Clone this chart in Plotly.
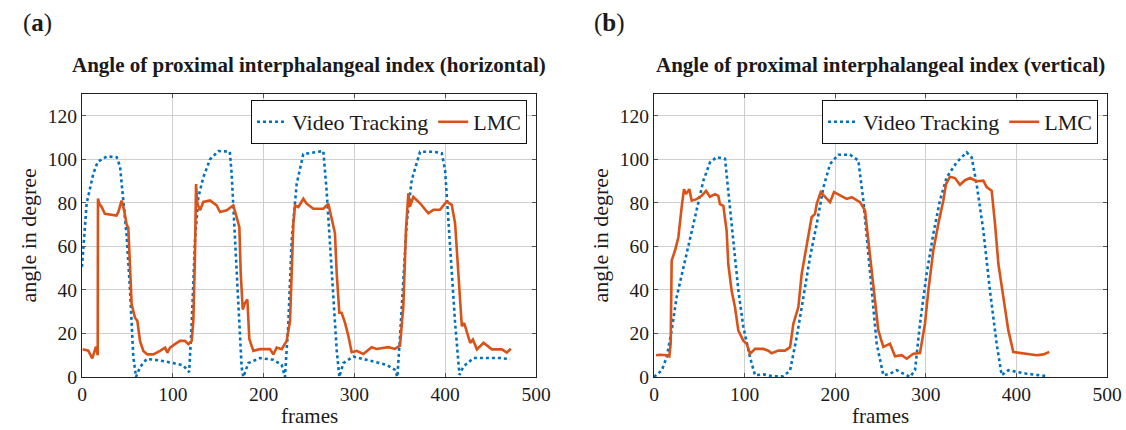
import plotly.graph_objects as go

# Panel (a): horizontal
va_x = [0, 5.1, 12.5, 17.2, 27.2, 38.2, 41.9, 45.5, 49.2, 52.9, 56.5, 59.5, 63.9, 71.2, 85.9, 100.5, 111.5, 118, 120.8, 124.4, 128.1, 133.6, 141, 150.2, 162.8, 164.8, 168.5, 172.2, 175.8, 177.7, 183.2, 196, 210.7, 219.9, 223.5, 227.2, 230.9, 236.4, 243.7, 254.8, 265.8, 269.4, 275, 280.5, 283.4, 287.8, 298.8, 313.5, 335.5, 344.7, 347.3, 350.2, 353.9, 357.6, 363.1, 372.3, 387, 396.2, 399.9, 403.5, 407.2, 410.9, 415.7, 420.1, 431.1, 445.8, 460.5, 471.5]
va_y = [50.6, 79.7, 93.4, 98.8, 101.3, 101, 96.7, 81.4, 64.7, 39.9, 9.3, 0, 4.5, 8.3, 7.6, 6.4, 5.3, 2.2, 24.4, 62.6, 82.5, 91.7, 100, 103.8, 103.5, 93.4, 62.6, 32, 4.5, 0, 6.4, 8.7, 7.9, 5.6, 0, 24.4, 62.6, 88.6, 102.4, 103.1, 103.8, 85.6, 47.7, 12.5, 0, 6.4, 9.4, 7.9, 5.6, 3.3, 0, 18.3, 47.7, 70.6, 90.4, 103.5, 103.5, 102.8, 95, 70.6, 47.7, 24.8, 1, 4.8, 8.7, 8.7, 8.7, 8.2]
la_x = [0.7, 6.9, 11.3, 13.2, 15.4, 17.3, 17.6, 19.1, 21.6, 25.2, 30.7, 38, 40, 43.6, 46.2, 49.2, 51, 52.9, 54.7, 58.4, 61, 63.9, 67.6, 72, 78.6, 85.9, 91.5, 94, 97, 102.4, 107.9, 113.4, 117.1, 120.8, 122.6, 124.4, 125.6, 127, 130, 133.6, 141, 148.3, 152, 159.3, 166.6, 170.3, 173.3, 174.8, 177, 179.5, 182.1, 184.3, 188.7, 196, 207, 210.7, 214.4, 219.9, 225.4, 229.1, 232.8, 234.6, 238.3, 243.8, 247.4, 254.8, 265.8, 271.3, 275, 278.6, 280.5, 283.4, 285.9, 289.6, 293.3, 297, 302.5, 309.8, 319, 324.5, 337.3, 344.7, 350.2, 353.9, 356.8, 359.4, 361.2, 364.9, 372.3, 381.4, 387, 394.3, 401.6, 407.2, 410.9, 415.7, 418.3, 420.9, 423.8, 427.5, 430.5, 434.9, 442.2, 451.4, 462.4, 467.9, 472.3]
la_y = [12.7, 12.1, 8.6, 11.6, 14, 10, 82, 79.6, 78.1, 75, 74.7, 74.2, 75.7, 81, 77, 70, 68.5, 48.6, 33.3, 27.2, 25.7, 16.5, 12, 10.4, 10.4, 12, 13.5, 11.2, 13.5, 15.1, 16.6, 16.6, 15.1, 16.6, 25.7, 55.5, 88.6, 79.6, 76.6, 80.4, 81.1, 78.8, 75.8, 76.6, 78.8, 73.5, 68.8, 47.7, 31, 34.1, 35.6, 17.4, 12, 12.8, 12.8, 10.4, 13.5, 12.8, 16.6, 25.7, 70.6, 78.8, 78.1, 81.9, 79.6, 77.3, 77.3, 79.6, 72, 66, 47.7, 29.5, 29.5, 25, 18.9, 11.4, 12, 10.6, 13.7, 12.9, 13.7, 12.9, 14.4, 32.5, 67.6, 84.4, 78.3, 82.8, 79.8, 75.2, 76.8, 76.8, 80.6, 79.1, 70.6, 40.1, 23.3, 24.8, 20.3, 15.7, 17.2, 12.7, 15.7, 12.7, 12.7, 11.2, 13]

# Panel (b): vertical
vb_x = [0, 8.5, 14, 19.5, 25, 32.4, 39.7, 47.1, 54.5, 61.8, 69.2, 78.4, 82, 87.6, 93.1, 98.6, 106, 111.5, 120.7, 131.8, 142.8, 150.2, 157.5, 164.9, 172.2, 179.6, 187, 194.3, 203.5, 216.4, 225.6, 231.1, 238.5, 245.8, 253.1, 260.5, 267.9, 275.2, 282.6, 288.1, 293.6, 300.9, 308.3, 315.6, 323, 334, 345.1, 350.6, 356.1, 363.5, 370.8, 378.2, 383.7, 391.1, 400.3, 411.3, 426, 435.2]
vb_y = [0, 3, 9, 21.4, 36.7, 50.5, 62.7, 76.5, 90.2, 98.6, 101, 100.2, 85.6, 61.2, 39.8, 23, 9, 0.8, 1.2, 0.3, 0.3, 3, 18.3, 36.7, 55, 70.3, 87.1, 97.8, 102.1, 102.1, 99.4, 81, 47.4, 15.3, 0.8, 1.5, 3.1, 1.5, 0, 3.1, 24.5, 47.4, 65.8, 81, 91.7, 98.6, 103.2, 100.9, 88.6, 67.3, 39.7, 15.3, 0.8, 3.1, 2.3, 1.5, 0.8, 0.3]
lb_x = [2.2, 6.6, 14, 16.9, 18.4, 19.5, 23.2, 26.9, 30.5, 33.1, 35.3, 39, 41.6, 47.1, 52.6, 57.4, 61.8, 67.4, 71, 72.8, 76.5, 80.2, 82, 85.7, 89.4, 93.1, 98.6, 102.3, 106, 111.5, 120.7, 126.2, 129.9, 137.2, 144.6, 150.2, 153.8, 159.3, 163, 168.5, 174, 177.7, 179.6, 184, 188.8, 194.3, 198.7, 205.3, 212.7, 218.2, 227.4, 232.9, 236.6, 240.3, 243.9, 247.6, 253.1, 256.8, 260.5, 266, 273.4, 278.9, 286.3, 293.6, 299.1, 302.8, 308.3, 313.8, 319.3, 322.3, 326.7, 332.2, 337.7, 343.3, 348.8, 356.1, 363.5, 367.2, 372.7, 376.4, 380.1, 385.6, 391.1, 396.6, 404, 411.3, 422.4, 429.7, 436.3]
lb_y = [10, 10.2, 10, 9.5, 15.3, 53.5, 58.1, 64.2, 77.9, 86.3, 84, 86.3, 81, 81.7, 83.2, 85.5, 82.8, 84, 83.2, 79.4, 78.6, 67.1, 51.8, 39.6, 32, 21.3, 16.7, 15.2, 10.6, 12.9, 12.9, 12.1, 10.9, 12.1, 12.1, 13.7, 24.4, 32, 47.4, 61.2, 73.4, 74.9, 79.5, 84.9, 82.6, 80.3, 84.9, 83.3, 81.8, 82.6, 80.3, 76.5, 62.7, 45.9, 35.2, 21.4, 13.8, 14.5, 15.3, 9.5, 10, 8.4, 10.7, 11, 24.5, 39.7, 58.1, 70.3, 81, 88.6, 92, 91.4, 88.3, 90.4, 91.4, 89.9, 90.2, 87.2, 85.6, 70.3, 52, 36.7, 21.4, 11.5, 11, 10.4, 10, 10.4, 11.5]

x_ticks = [0, 100, 200, 300, 400, 500]
y_ticks = [0, 20, 40, 60, 80, 100, 120]
titles = ["Angle of proximal interphalangeal index (horizontal)",
          "Angle of proximal interphalangeal index (vertical)"]
panel_labels = ["a", "b"]
series_names = ["Video Tracking", "LMC"]
x_title = "frames"
y_title = "angle in degree"

BLUE = "#0072BD"
ORANGE = "#D95319"
FONT = "Liberation Serif"
W, H = 1126, 430
TXT = "#1a1a1a"

fig = go.Figure()
fig.add_trace(go.Scatter(x=va_x, y=va_y, mode="lines", name=series_names[0],
                         line=dict(color=BLUE, width=2.6, dash="dot"), xaxis="x", yaxis="y", legend="legend"))
fig.add_trace(go.Scatter(x=la_x, y=la_y, mode="lines", name=series_names[1],
                         line=dict(color=ORANGE, width=2.6), xaxis="x", yaxis="y", legend="legend"))
fig.add_trace(go.Scatter(x=vb_x, y=vb_y, mode="lines", name=series_names[0],
                         line=dict(color=BLUE, width=2.6, dash="dot"), xaxis="x2", yaxis="y2", legend="legend2"))
fig.add_trace(go.Scatter(x=lb_x, y=lb_y, mode="lines", name=series_names[1],
                         line=dict(color=ORANGE, width=2.6), xaxis="x2", yaxis="y2", legend="legend2"))

TOP, BOT = 94, 377
panels = [(82, 536), (654, 1107)]
dom_y = [(H - BOT) / H, (H - TOP) / H]

def xax(dom, anchor):
    return dict(domain=dom, anchor=anchor, range=[0, 500], tickvals=x_ticks,
                showgrid=True, gridcolor="#cfcfcf", gridwidth=1, zeroline=False,
                showline=True, linecolor="#222", linewidth=1, mirror="ticks",
                ticks="inside", ticklen=4, tickcolor="#555", automargin=False,
                tickfont=dict(family=FONT, size=19.5, color=TXT))

def yax(anchor):
    return dict(domain=dom_y, anchor=anchor, range=[0, 130], tickvals=y_ticks,
                showgrid=True, gridcolor="#cfcfcf", gridwidth=1, zeroline=False,
                showline=True, linecolor="#222", linewidth=1, mirror="ticks",
                ticks="inside", ticklen=4, tickcolor="#555", automargin=False,
                tickfont=dict(family=FONT, size=19.5, color=TXT))

leg_common = dict(orientation="h", xanchor="right", yanchor="top",
                  bgcolor="white", bordercolor="#111", borderwidth=1,
                  font=dict(family=FONT, size=22, color=TXT),
                  itemwidth=30, tracegroupgap=0)

fig.update_layout(
    width=W, height=H, margin=dict(l=0, r=0, t=0, b=0, autoexpand=False),
    paper_bgcolor="white", plot_bgcolor="white",
    xaxis=xax([panels[0][0] / W, panels[0][1] / W], "y"), yaxis=yax("x"),
    xaxis2=xax([panels[1][0] / W, panels[1][1] / W], "y2"), yaxis2=yax("x2"),
    legend=dict(x=(panels[0][1] - 9) / W, y=(H - 100) / H, **leg_common),
    legend2=dict(x=(panels[1][1] - 9) / W, y=(H - 100) / H, **leg_common),
    showlegend=True,
)

for i, (x0, x1) in enumerate(panels):
    cx = (x0 + x1) / 2
    fig.add_annotation(text="<b>" + titles[i] + "</b>", x=cx / W, y=(H - 65) / H,
                       xref="paper", yref="paper", showarrow=False,
                       xanchor="center", yanchor="middle",
                       font=dict(family=FONT, size=21, color=TXT))
    fig.add_annotation(text="(<b>" + panel_labels[i] + "</b>)", x=(x0 - 45) / W, y=(H - 23) / H,
                       xref="paper", yref="paper", showarrow=False,
                       xanchor="center", yanchor="middle",
                       font=dict(family=FONT, size=25, color=TXT))
    fig.add_annotation(text=x_title, x=cx / W, y=(H - 416) / H,
                       xref="paper", yref="paper", showarrow=False,
                       xanchor="center", yanchor="middle",
                       font=dict(family=FONT, size=21, color=TXT))
    fig.add_annotation(text=y_title, x=(x0 - 54) / W, y=(H - (TOP + BOT) / 2) / H,
                       xref="paper", yref="paper", showarrow=False, textangle=-90,
                       xanchor="center", yanchor="middle",
                       font=dict(family=FONT, size=22, color=TXT))

fig.write_html("out.html", config={"displayModeBar": False},
               post_script="document.body.style.margin='0px';document.body.style.overflow='hidden';")
